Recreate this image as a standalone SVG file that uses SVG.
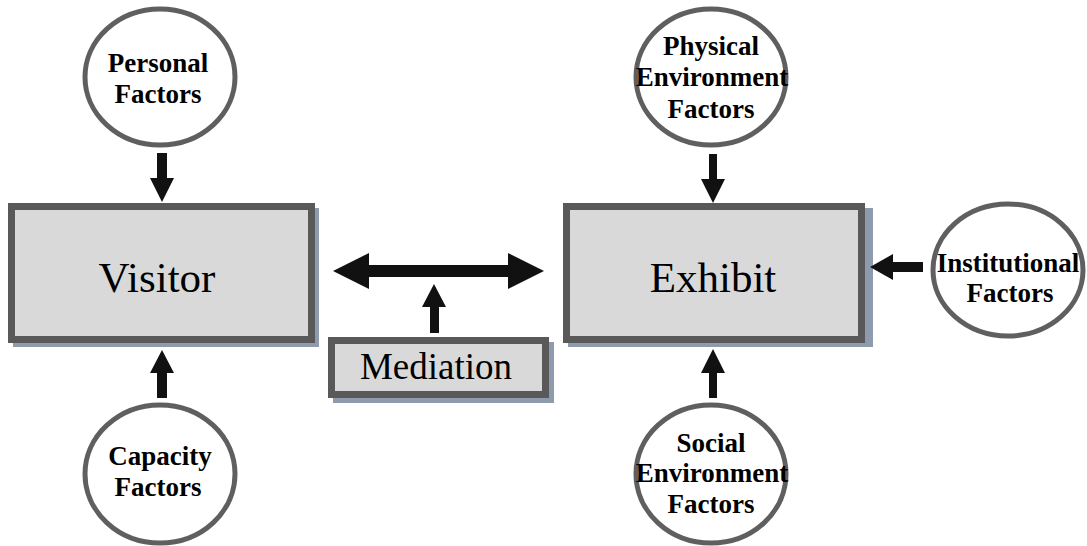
<svg xmlns="http://www.w3.org/2000/svg" width="1087" height="546" viewBox="0 0 1087 546" font-family="Liberation Serif, serif">
  <style>
    .box { fill: #d9d9d9; stroke: #595959; stroke-width: 7; }
    .shadow { fill: #8d9bad; }
    .factor { fill: #ffffff; stroke: #5f5f5f; stroke-width: 5; }
    .big { fill: #000; text-anchor: middle; }
    .lbl { font-weight: bold; font-size: 27px; fill: #000; text-anchor: middle; }
    .arrow { fill: #111111; }
  </style>
  <rect width="1087" height="546" fill="#ffffff"/>

  <!-- main boxes -->
  <g id="visitor">
    <rect class="shadow" x="13" y="208" width="306" height="139"/>
    <rect class="box" x="11.5" y="206.5" width="300" height="133"/>
    <text class="big" x="157" y="292" font-size="43">Visitor</text>
  </g>
  <g id="exhibit">
    <rect class="shadow" x="568" y="208" width="305" height="139"/>
    <rect class="box" x="566.5" y="206.5" width="295" height="133"/>
    <text class="big" x="713" y="292" font-size="43">Exhibit</text>
  </g>
  <g id="mediation">
    <rect class="shadow" x="333" y="342" width="221" height="61"/>
    <rect class="box" x="331.5" y="340.5" width="214" height="54"/>
    <text class="big" x="436" y="379" font-size="37">Mediation</text>
  </g>

  <!-- factor ellipses -->
  <g id="personal-factors">
    <ellipse class="factor" cx="160" cy="77" rx="75" ry="68"/>
    <text class="lbl" x="158" y="72">Personal</text>
    <text class="lbl" x="158" y="103">Factors</text>
  </g>
  <g id="capacity-factors">
    <ellipse class="factor" cx="160" cy="474" rx="75" ry="69"/>
    <text class="lbl" x="160" y="465">Capacity</text>
    <text class="lbl" x="158" y="496">Factors</text>
  </g>
  <g id="physical-environment-factors">
    <ellipse class="factor" cx="711" cy="77" rx="75" ry="68"/>
    <text class="lbl" x="711" y="55">Physical</text>
    <text class="lbl" x="712" y="86">Environment</text>
    <text class="lbl" x="711" y="118">Factors</text>
  </g>
  <g id="social-environment-factors">
    <ellipse class="factor" cx="711" cy="474" rx="75" ry="69"/>
    <text class="lbl" x="711" y="452">Social</text>
    <text class="lbl" x="712" y="482">Environment</text>
    <text class="lbl" x="711" y="513">Factors</text>
  </g>
  <g id="institutional-factors">
    <ellipse class="factor" cx="1008" cy="270" rx="75" ry="66"/>
    <text class="lbl" x="1008" y="272">Institutional</text>
    <text class="lbl" x="1010" y="302">Factors</text>
  </g>

  <!-- block arrows -->
  <g id="connectors">
    <!-- Personal -> Visitor -->
    <polygon class="arrow" points="157,153 167,153 167,178 174,178 162,202 150,178 157,178"/>
    <!-- Capacity -> Visitor -->
    <polygon class="arrow" points="157,398 167,398 167,373 174,373 162,350 150,373 157,373"/>
    <!-- Physical environment -> Exhibit -->
    <polygon class="arrow" points="709,154 717,154 717,179 725,179 713,203 701,179 709,179"/>
    <!-- Social environment -> Exhibit -->
    <polygon class="arrow" points="709,398 717,398 717,373 725,373 713,349 701,373 709,373"/>
    <!-- Institutional -> Exhibit -->
    <polygon class="arrow" points="923,262 923,272 893,272 893,280 870,267 893,254 893,262"/>
    <!-- Visitor <-> Exhibit -->
    <polygon class="arrow" points="333,271 369,253 369,265 508,265 508,253 544,271 508,289 508,277 369,277 369,289"/>
    <!-- Mediation -> interaction -->
    <polygon class="arrow" points="430,333 439,333 439,307 446,307 434,284 422,307 430,307"/>
  </g>
</svg>
